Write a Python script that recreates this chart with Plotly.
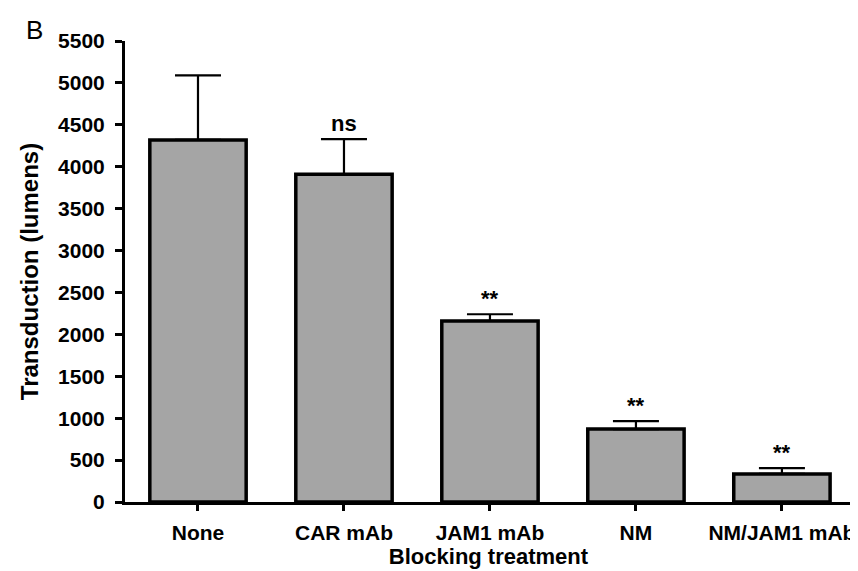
import plotly.graph_objects as go

categories = ["None", "CAR mAb", "JAM1 mAb", "NM", "NM/JAM1 mAb"]
means = [4320, 3910, 2160, 870, 335]
err_upper = [770, 420, 80, 95, 70]
sig_labels = ["", "ns", "**", "**", "**"]
y_ticks = list(range(0, 5501, 500))

FONT = "Liberation Sans, Arial, Helvetica, sans-serif"

fig = go.Figure()
fig.add_trace(go.Bar(
    x=categories, y=means,
    marker=dict(color="#a5a5a5", line=dict(color="black", width=3.5)),
    width=0.66,
    error_y=dict(type="data", symmetric=False, array=err_upper, arrayminus=[0]*5,
                 color="black", thickness=2.2, width=23),
))

for c, m, e, s in zip(categories, means, err_upper, sig_labels):
    if s:
        fig.add_annotation(x=c, y=m + e, text=s, showarrow=False,
                           yanchor="bottom", yshift=1,
                           font=dict(family=FONT, size=22, color="black", weight="bold"))

fig.add_annotation(xref="paper", yref="paper", x=-0.139, y=1.024, text="B",
                   showarrow=False, xanchor="left", yanchor="middle",
                   font=dict(family=FONT, size=26, color="black"))

fig.update_layout(
    width=858, height=571,
    margin=dict(l=117, r=11, t=33, b=77),
    paper_bgcolor="white", plot_bgcolor="white",
    showlegend=False, bargap=0.34,
    font=dict(family=FONT, color="black"),
)
fig.update_yaxes(range=[0, 5500], tickvals=y_ticks, showline=True, linewidth=3, linecolor="black",
                 automargin=False,
                 ticks="outside", ticklen=7, tickwidth=3, tickcolor="black", showgrid=False, zeroline=False,
                 ticklabelstandoff=6,
                 tickfont=dict(family=FONT, size=21, color="black", weight="bold"),
                 title=dict(text="Transduction (lumens)", standoff=13,
                            font=dict(family=FONT, size=24, color="black", weight="bold")))
fig.update_xaxes(range=[-0.5, 4.48], showline=True, linewidth=3, linecolor="black",
                 ticks="outside", ticklen=6, tickwidth=3, tickcolor="black", showgrid=False,
                 ticklabelstandoff=4,
                 tickfont=dict(family=FONT, size=21, color="black", weight="bold"),
                 title=dict(text="Blocking treatment", standoff=6,
                            font=dict(family=FONT, size=22, color="black", weight="bold")))

fig.write_html("out.html")
